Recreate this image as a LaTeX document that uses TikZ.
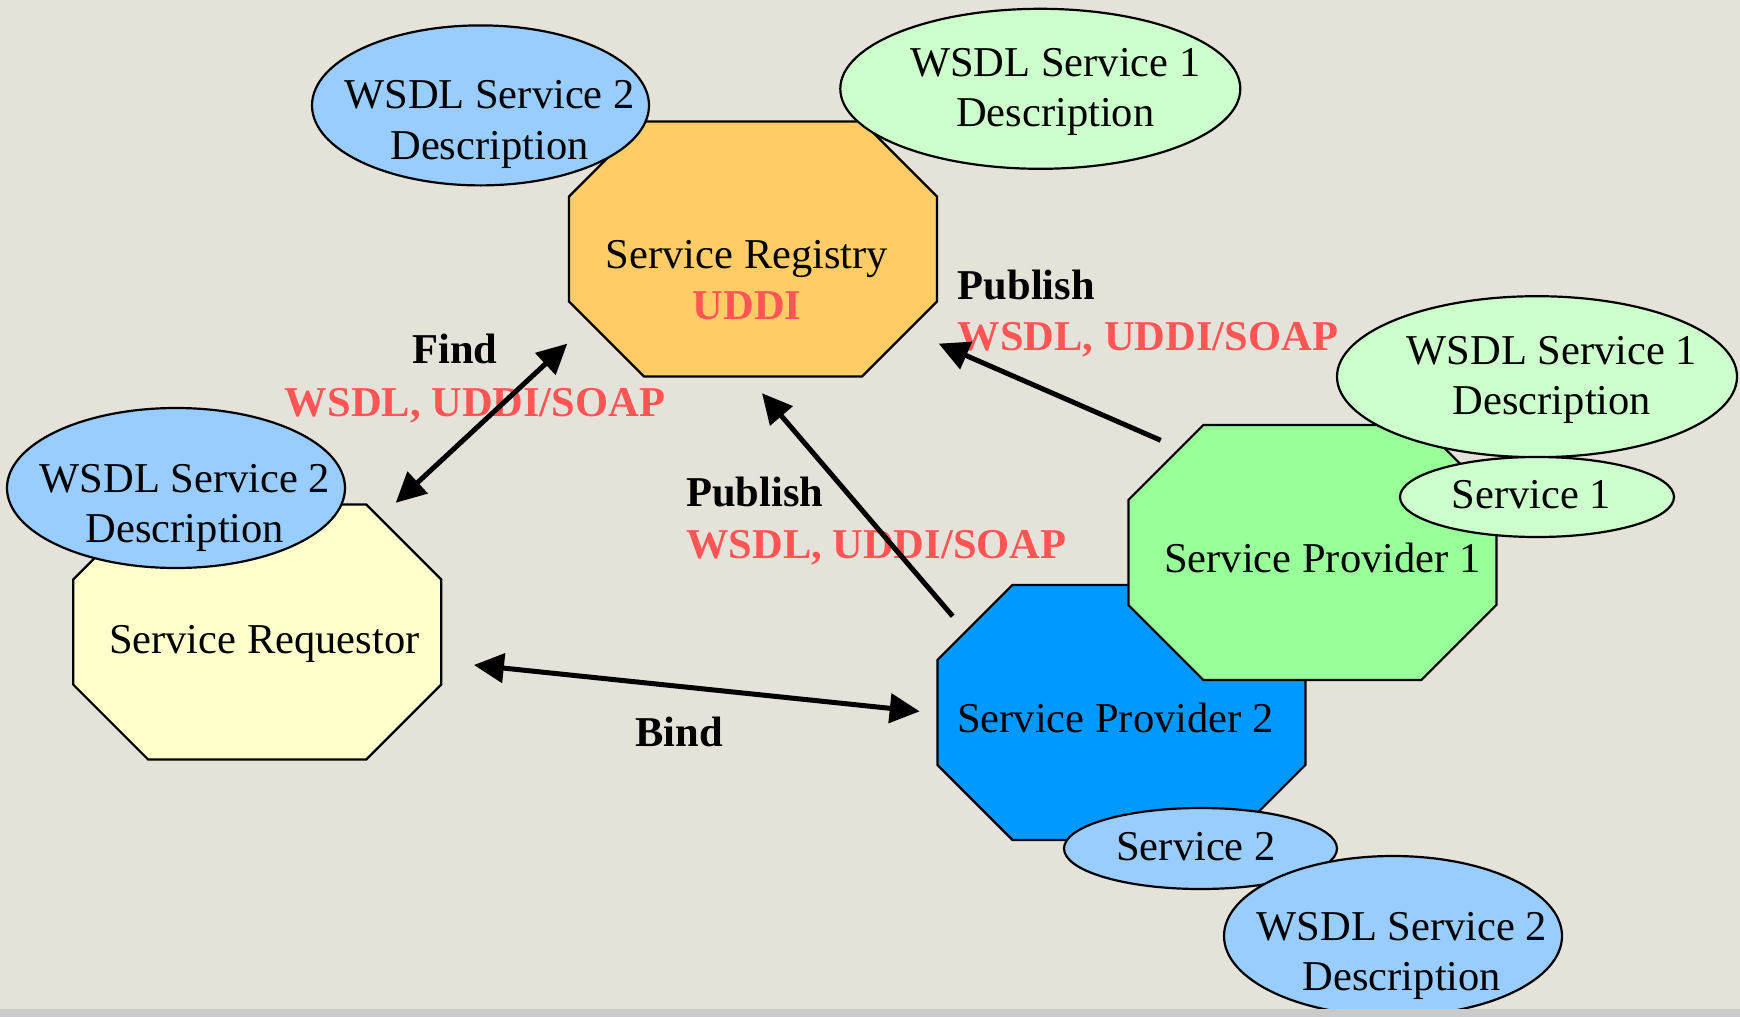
\documentclass[tikz,border=0pt]{standalone}
\usepackage{fontspec}
\setmainfont{Liberation Serif}
\usetikzlibrary{shapes.geometric, arrows.meta, calc}
\definecolor{paper}{HTML}{E5E2DA}
\definecolor{strip}{HTML}{CACACA}
\definecolor{registry}{HTML}{FFCC66}
\definecolor{requestor}{HTML}{FFFFCC}
\definecolor{providerA}{HTML}{99FF99}
\definecolor{providerB}{HTML}{0099FF}
\definecolor{wsdlblue}{HTML}{99CCFF}
\definecolor{wsdlgreen}{HTML}{CCFFCC}
\definecolor{proto}{HTML}{FF5555}
\newcommand{\diagfont}{\fontsize{42.5}{50.5}\selectfont}
\tikzset {
    >={Triangle[length=30pt, width=29pt]},
    every label/.style={inner sep=0pt, align=center},
    octagon/.style={minimum width=371pt, minimum height=258pt, inner sep=0pt,
        path picture={
            \draw[line width=2.2pt, fill=#1]
                ([xshift=76.5pt, yshift=-1.5pt]path picture bounding box.north west)
             -- ([xshift=-76.5pt, yshift=-1.5pt]path picture bounding box.north east)
             -- ([xshift=-1.5pt, yshift=-76.5pt]path picture bounding box.north east)
             -- ([xshift=-1.5pt, yshift=76.5pt]path picture bounding box.south east)
             -- ([xshift=-76.5pt, yshift=1.5pt]path picture bounding box.south east)
             -- ([xshift=76.5pt, yshift=1.5pt]path picture bounding box.south west)
             -- ([xshift=1.5pt, yshift=76.5pt]path picture bounding box.south west)
             -- ([xshift=1.5pt, yshift=-76.5pt]path picture bounding box.north west)
             -- cycle;
        }},
    bubble/.style={ellipse, draw, line width=2.2pt, fill=#1, inner sep=0pt},
    tag/.style={inner sep=0pt, font=\diagfont\bfseries},
    link/.style={<->, line width=5pt}
}

\begin{document}
\begin{tikzpicture}[x=1pt, y=-1pt, font=\diagfont]
    \useasboundingbox (0,0) rectangle (1740,1017);
    \fill[paper] (0,0) rectangle (1740,1009);

    % registry and its descriptions
    \node[octagon=registry, label={[xshift=-6pt, yshift=-31pt]center:{Service Registry\\\textcolor{proto}{\bfseries UDDI}}}] (reg) at (753,249) {};
    \node[bubble=wsdlblue, minimum width=337pt, minimum height=160pt,
          label={[xshift=9pt, yshift=-19pt]center:{WSDL Service 2\\Description}}] (wsdl2a) at (480.5,105.4) {};
    \node[bubble=wsdlgreen, minimum width=400pt, minimum height=160pt,
          label={[xshift=15pt, yshift=-3pt]center:{WSDL Service 1\\Description}}] (wsdl1a) at (1040.3,88.8) {};

    % requestor
    \node[octagon=requestor, label={[xshift=7pt, yshift=-11.5pt]center:Service Requestor}] (req) at (257.2,632) {};
    \node[bubble=wsdlblue, minimum width=338pt, minimum height=160pt,
          label={[xshift=9pt, yshift=-20pt]center:{WSDL Service 2\\Description}}] (wsdl2b) at (176,488) {};

    % providers
    \node[octagon=providerB, label={[xshift=-6pt, yshift=-5.5pt]center:Service Provider 2}] (prov2) at (1121.4,712.4) {};
    \node[bubble=wsdlblue, minimum width=273pt, minimum height=81pt,
          label={[xshift=-4.5pt, yshift=2pt]center:Service 2}] (svc2) at (1200.5,848.5) {};
    \node[bubble=wsdlblue, minimum width=338pt, minimum height=160pt,
          label={[xshift=9pt, yshift=-20pt]center:{WSDL Service 2\\Description}}] (wsdl2c) at (1393,936) {};
    \node[octagon=providerA, label={[xshift=10pt, yshift=-5.5pt]center:Service Provider 1}] (prov1) at (1312.4,552.5) {};
    \node[bubble=wsdlgreen, minimum width=400pt, minimum height=161pt,
          label={[xshift=15pt, yshift=-3pt]center:{WSDL Service 1\\Description}}] (wsdl1b) at (1537,376.7) {};
    \node[bubble=wsdlgreen, minimum width=274pt, minimum height=80pt,
          label={[xshift=-5.5pt, yshift=2pt]center:Service 1}] (svc1) at (1537,497) {};

    % operations
    \node[tag, anchor=base] (find) at (455,363) {Find};
    \node[tag, anchor=base, text=proto] (findvia) at (475,416.5) {WSDL, UDDI/SOAP};
    \node[tag, anchor=base west] (pub1) at (957.6,299) {Publish};
    \node[tag, anchor=base west, text=proto] (pub1via) at (957.6,350.7) {WSDL, UDDI/SOAP};
    \node[tag, anchor=base west] (pub2) at (686,506.7) {Publish};
    \node[tag, anchor=base west, text=proto] (pub2via) at (686,558.3) {WSDL, UDDI/SOAP};
    \node[tag, anchor=base] (bind) at (679,746.5) {Bind};

    \draw[link] (req.43) -- (reg.207.5);
    \draw[link, <-] (reg.-27.5) -- ($(prov1.north west)+(34,17)$);
    \draw[link, <-] ($(reg.south)+(9,15)$) -- ($(prov2.north west)+(17,33)$);
    \draw[link] ($(req.east)+(31,33)$) -- ($(prov2.west)+(-16,-1)$);

    \fill[strip] (0,1009) rectangle (1740,1017);
\end{tikzpicture}
\end{document}
